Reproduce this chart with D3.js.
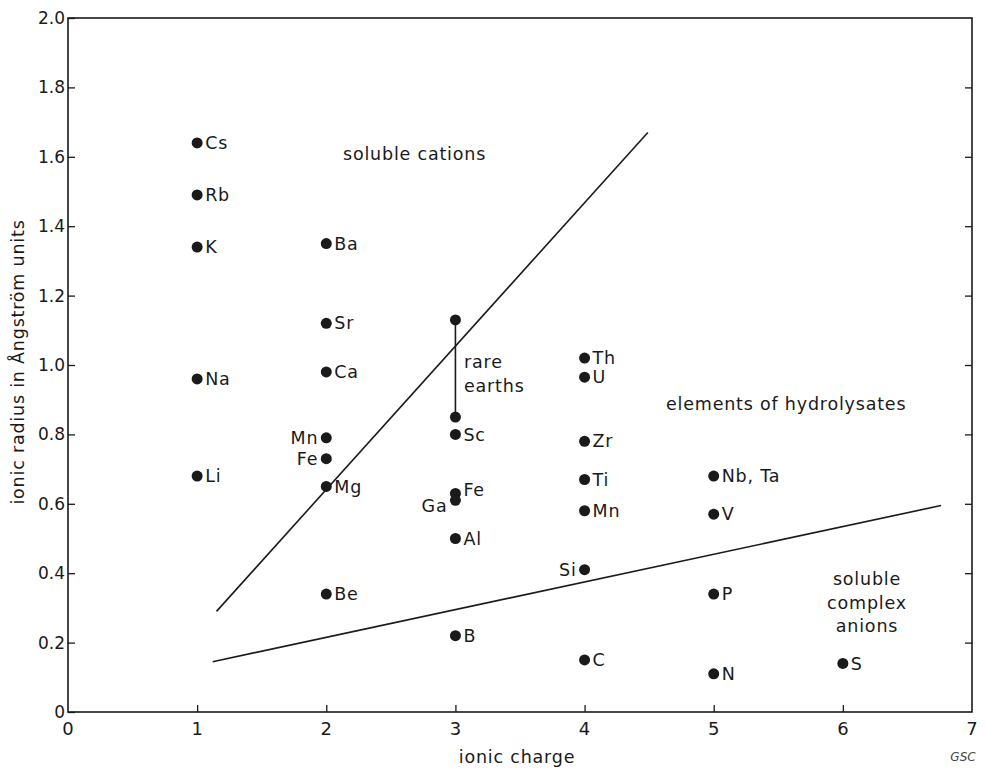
<!DOCTYPE html>
<html lang="en">
<head>
<meta charset="UTF-8">
<title>Ionic potential</title>
<script src="https://d3js.org/d3.v7.min.js"></script>
<style>
  body { margin: 0; background: #fff; }
  svg { display: block; font-family: "DejaVu Sans", Verdana, sans-serif; }
  .lbl { letter-spacing: 0.8px; }
</style>
</head>
<body>
<svg id="chart" width="985" height="770"></svg>
<script>
(function () {
  'use strict';

  // element data
  const elements = ["Cs", "Rb", "K", "Na", "Li",
                    "Ba", "Sr", "Ca", "Mn", "Fe", "Mg", "Be",
                    "Sc", "Fe", "Ga", "Al", "B",
                    "Th", "U", "Zr", "Ti", "Mn", "Si", "C",
                    "Nb, Ta", "V", "P", "N", "S"];
  const charges = [1, 1, 1, 1, 1,
                   2, 2, 2, 2, 2, 2, 2,
                   3, 3, 3, 3, 3,
                   4, 4, 4, 4, 4, 4, 4,
                   5, 5, 5, 5, 6];
  const radii = [1.64, 1.49, 1.34, 0.96, 0.68,
                 1.35, 1.12, 0.98, 0.79, 0.73, 0.65, 0.34,
                 0.80, 0.63, 0.61, 0.50, 0.22,
                 1.02, 0.965, 0.78, 0.67, 0.58, 0.41, 0.15,
                 0.68, 0.57, 0.34, 0.11, 0.14];
  // which side the label goes: r = right, l = left, ru = right and raised
  const labelSide = ["r", "r", "r", "r", "r",
                     "r", "r", "r", "l", "l", "r", "r",
                     "r", "ru", "l", "r", "r",
                     "r", "r", "r", "r", "r", "l", "r",
                     "r", "r", "r", "r", "r"];

  // rare earths range at charge 3
  const rareEarths = [1.13, 0.85];

  // boundary lines [charge, radius]
  const cationLine = [[1.15, 0.29], [4.49, 1.67]];
  const anionLine = [[1.12, 0.145], [6.76, 0.595]];

  const xTicks = [0, 1, 2, 3, 4, 5, 6, 7];
  const yTicks = [0, 0.2, 0.4, 0.6, 0.8, 1.0, 1.2, 1.4, 1.6, 1.8, 2.0];

  const svg = d3.select('#chart');
  const ink = "#1a1a1a";
  const fs = 17.5;

  const x = d3.scaleLinear().domain([0, 7]).range([68, 972]);
  const y = d3.scaleLinear().domain([0, 2]).range([712, 18]);

  // frame
  svg.append("rect")
      .attr("x", x(0)).attr("y", y(2))
      .attr("width", x(7) - x(0)).attr("height", y(0) - y(2))
      .attr("fill", "none").attr("stroke", ink).attr("stroke-width", 1.6);

  // left axis ticks pointing inward
  const yAxisL = svg.append("g")
      .attr("transform", `translate(${x(0)},0)`)
      .call(d3.axisRight(y).tickValues(yTicks).tickSize(7).tickFormat(""));
  yAxisL.select(".domain").remove();
  yAxisL.selectAll("line").attr("stroke", ink).attr("stroke-width", 1.3);

  // tick labels on the left, outside the frame
  svg.append("g").selectAll("text")
      .data(yTicks)
      .join("text")
      .attr("x", x(0) - 3)
      .attr("y", d => y(d))
      .attr("dy", "0.35em")
      .attr("text-anchor", "end")
      .attr("font-size", 17)
      .attr("fill", ink)
      .text(d => d === 0 ? "0" : d3.format(".1f")(d));

  // right axis ticks pointing inward
  const yAxisR = svg.append("g")
      .attr("transform", `translate(${x(7)},0)`)
      .call(d3.axisLeft(y).tickValues(yTicks.slice(1, -1)).tickSize(7).tickFormat(""));
  yAxisR.select(".domain").remove();
  yAxisR.selectAll("line").attr("stroke", ink).attr("stroke-width", 1.3);

  // bottom ticks pointing up
  const xAxis = svg.append("g")
      .attr("transform", `translate(0,${y(0)})`)
      .call(d3.axisTop(x).tickValues(xTicks.slice(1, -1)).tickSize(7).tickFormat(""));
  xAxis.select(".domain").remove();
  xAxis.selectAll("line").attr("stroke", ink).attr("stroke-width", 1.3);

  svg.append("g").selectAll("text")
      .data(xTicks)
      .join("text")
      .attr("x", d => x(d))
      .attr("y", y(0) + 23)
      .attr("text-anchor", "middle")
      .attr("font-size", 18)
      .attr("fill", ink)
      .text(d => d);

  // axis titles
  svg.append("text")
      .attr("class", "lbl")
      .attr("x", 517).attr("y", 763)
      .attr("text-anchor", "middle")
      .attr("font-size", fs).attr("fill", ink)
      .text("ionic charge");

  svg.append("text")
      .attr("class", "lbl")
      .attr("transform", `translate(24,${(y(0) + y(2)) / 2 - 3}) rotate(-90)`)
      .attr("text-anchor", "middle")
      .attr("font-size", fs).attr("fill", ink)
      .text("ionic radius in Ångström units");

  svg.append("text")
      .attr("x", 963).attr("y", 761)
      .attr("text-anchor", "middle")
      .attr("font-size", 12).attr("font-style", "italic")
      .attr("fill", "#444")
      .text("GSC");

  // boundary lines
  const line = d3.line().x(d => x(d[0])).y(d => y(d[1]));
  svg.append("g").selectAll("path")
      .data([cationLine, anionLine])
      .join("path")
      .attr("d", line)
      .attr("fill", "none")
      .attr("stroke", ink)
      .attr("stroke-width", 1.6);

  // rare earths bar
  svg.append("line")
      .attr("x1", x(3)).attr("x2", x(3))
      .attr("y1", y(rareEarths[0])).attr("y2", y(rareEarths[1]))
      .attr("stroke", ink).attr("stroke-width", 1.6);
  svg.append("g").selectAll("circle")
      .data(rareEarths)
      .join("circle")
      .attr("cx", x(3)).attr("cy", d => y(d))
      .attr("r", 5.5).attr("fill", ink);

  // element points
  const pts = elements.map((name, i) => ({
    name: name, charge: charges[i], radius: radii[i], side: labelSide[i]
  }));

  svg.append("g").selectAll("circle")
      .data(pts)
      .join("circle")
      .attr("cx", d => x(d.charge))
      .attr("cy", d => y(d.radius))
      .attr("r", 5.5)
      .attr("fill", ink);

  svg.append("g").selectAll("text")
      .data(pts)
      .join("text")
      .attr("class", "lbl")
      .attr("x", d => x(d.charge) + (d.side === "l" ? -8 : 8))
      .attr("y", d => y(d.radius) + (d.side === "ru" ? -4 : (d.side === "l" && d.name === "Ga" ? 6 : 0)))
      .attr("dy", "0.35em")
      .attr("text-anchor", d => d.side === "l" ? "end" : "start")
      .attr("font-size", fs)
      .attr("fill", ink)
      .text(d => d.name);

  // region captions
  const caption = (lines, cx, cy, anchor) => {
    svg.append("text")
        .attr("class", "lbl")
        .attr("x", cx).attr("y", cy)
        .attr("text-anchor", anchor)
        .attr("font-size", fs).attr("fill", ink)
        .selectAll("tspan")
        .data(lines)
        .join("tspan")
        .attr("x", cx)
        .attr("dy", (d, i) => i === 0 ? 0 : "1.35em")
        .text(d => d);
  };
  caption(["soluble cations"], 343, 160, "start");
  caption(["rare", "earths"], 464, 368, "start");
  caption(["elements of hydrolysates"], 666, 410, "start");
  caption(["soluble", "complex", "anions"], 867, 585, "middle");
}());
</script>
</body>
</html>
